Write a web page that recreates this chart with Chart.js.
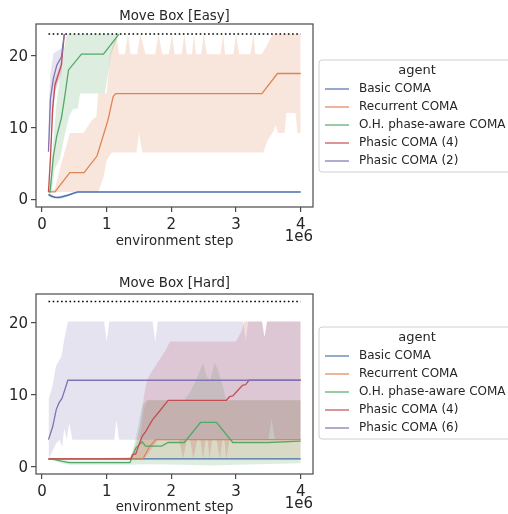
<!DOCTYPE html>
<html>
<head>
<meta charset="utf-8">
<script src="https://cdn.jsdelivr.net/npm/chart.js@4.4.1/dist/chart.umd.min.js"></script>
<style>
  html, body { margin: 0; padding: 0; background: #fff; }
  .wrap { position: relative; width: 508px; height: 257px; }
</style>
</head>
<body>
<div class="wrap"><canvas id="easy" width="508" height="257"></canvas></div>
<div class="wrap"><canvas id="hard" width="508" height="257"></canvas></div>
<script>
// tick labels & reference level
const xTicks = [0, 1, 2, 3, 4];
const yTicks = [0, 10, 20];
const target = 23;
const targetX = [0.1, 4];

const easyLabels = ['Basic COMA', 'Recurrent COMA', 'O.H. phase-aware COMA', 'Phasic COMA (4)', 'Phasic COMA (2)'];
const hardLabels = ['Basic COMA', 'Recurrent COMA', 'O.H. phase-aware COMA', 'Phasic COMA (4)', 'Phasic COMA (6)'];

// --- Move Box [Easy]  ([step in 1e6, return])
const easyBasicMean = [[0.1,0.65],[0.15,0.4],[0.2,0.25],[0.25,0.22],[0.3,0.3],[0.4,0.55],[0.5,0.85],[0.55,1],[4,1]];
const easyBasicLo   = [[0.1,0.4],[0.15,0.15],[0.2,0.05],[0.25,0.05],[0.3,0.1],[0.4,0.4],[0.5,0.8],[0.55,0.95],[4,0.95]];
const easyBasicHi   = [[0.1,0.9],[0.15,0.65],[0.2,0.45],[0.25,0.42],[0.3,0.5],[0.4,0.7],[0.5,0.95],[0.55,1.05],[4,1.05]];

const easyRecMean = [[0.1,1],[0.2,1],[0.43,3.7],[0.65,3.7],[0.85,6],[1.02,11],[1.1,14.3],[1.14,14.7],[3.4,14.7],[3.64,17.5],[4,17.5]];
const easyRecLo   = [[0.1,1],[0.87,1],[0.95,3],[1.0,5.4],[1.08,6.5],[1.46,6.5],[1.5,9.2],[1.55,6.5],[3.42,6.5],[3.49,8.2],[3.58,9.5],[3.61,10.3],[3.65,9.2],[3.75,9.2],[3.78,12],[3.92,12],[3.95,9.2],[4,9.2]];
const easyRecHi   = [[0.1,1],[0.2,1.5],[0.3,5],[0.43,9.2],[0.64,9.2],[0.77,11],[0.84,11.5],[0.87,14.7],[1.0,14.7],[1.05,20.2],[1.15,23],
  [1.19,20.2],[1.28,20.2],[1.33,23],[1.37,20.2],[1.47,20.2],[1.52,23],[1.6,20.2],[1.75,20.2],[1.8,23],[1.86,20.2],[1.96,20.2],
  [2.01,23],[2.05,20.2],[2.16,20.2],[2.2,23],[2.24,20.2],[2.32,20.2],[2.35,23],[2.38,20.2],[2.46,20.2],[2.5,23],[2.55,20.2],
  [2.76,20.2],[2.8,23],[2.83,20.2],[2.96,20.2],[3.0,23],[3.05,20.2],[3.22,20.2],[3.27,23],[3.3,20.2],[3.4,20.2],[3.57,23],[4,23]];

const easyOhMean = [[0.1,1],[0.125,1],[0.175,5.9],[0.226,8.7],[0.3,11.3],[0.355,14.5],[0.41,18],[0.61,20.2],[0.95,20.2],[1.19,23]];
const easyOhLo   = [[0.1,1],[0.15,1],[0.2,4.3],[0.28,5.7],[0.35,8.9],[0.42,11.5],[0.48,12.6],[0.55,12.6],[0.59,14.7],[0.97,14.7],[1.07,20.2],[1.19,23]];
const easyOhHi   = [[0.1,1],[0.13,3],[0.175,8],[0.22,13],[0.28,17],[0.33,20.2],[0.38,23],[1.19,23]];

const easyP4Mean = [[0.1,1],[0.13,5.7],[0.165,12.6],[0.2,15.9],[0.25,17.3],[0.3,18.7],[0.345,23]];
const easyP4Lo   = [[0.1,1],[0.13,4],[0.165,11],[0.2,15],[0.25,16.5],[0.3,18],[0.345,23]];
const easyP4Hi   = [[0.1,1],[0.13,7.5],[0.165,14],[0.2,16.8],[0.25,18],[0.3,19.5],[0.345,23]];

const easyP2Mean = [[0.1,6.6],[0.13,14],[0.175,16.8],[0.23,18.7],[0.3,19.8],[0.345,23]];
const easyP2Lo   = [[0.1,6.6],[0.14,10.3],[0.2,14.9],[0.3,17.3],[0.345,23]];
const easyP2Hi   = [[0.1,12],[0.13,17.4],[0.175,20.3],[0.3,21],[0.345,23]];

// --- Move Box [Hard]
const hardBasicMean = [[0.1,1],[4,1]];
const hardBasicLo   = [[0.1,0.97],[4,0.97]];
const hardBasicHi   = [[0.1,1.03],[4,1.03]];

const hardRecMean = [[0.1,1],[1.56,1],[1.66,2.7],[1.76,3.7],[4,3.7]];
const hardRecLo   = [[0.1,1],[4,1]];
const hardRecHi   = [[0.1,1],[1.4,1],[1.5,3],[1.58,8],[1.63,9.2],[4,9.2]];

const hardOhMean = [[0.1,1],[0.2,0.9],[0.3,0.7],[0.42,0.5],[1.36,0.5],[1.45,2.5],[1.55,3.4],[1.6,2.8],[1.85,2.8],[1.95,3.3],[2.2,3.3],[2.45,6.1],[2.7,6.1],[2.95,3.3],[3.5,3.3],[4,3.5]];
const hardOhLo   = [[0.1,1],[0.3,0.4],[0.42,0.2],[1.36,0.2],[1.6,0.25],[2.2,0.2],[2.6,0.1],[3.0,0.2],[3.5,0.3],[4,0.4]];
const hardOhHi   = [[0.1,1],[0.3,0.9],[0.42,0.75],[1.36,0.8],[1.45,4],[1.55,8.5],[1.62,9.2],[2.2,9.2],[2.3,10.5],[2.38,12],[2.49,14.4],[2.55,12.5],[2.6,12],[2.67,14.4],[2.72,13.5],[2.8,11],[2.85,9.2],[4,9.2]];

const hardP4Mean = [[0.1,1],[1.37,1],[1.4,1.6],[1.45,1.7],[1.5,3.0],[1.55,4.2],[1.6,4.8],[1.71,6.5],[1.81,7.6],[1.95,9.2],[2.85,9.2],[2.9,9.7],[2.95,9.8],[3.03,10.6],[3.1,11.3],[3.15,11.4],[3.2,12],[4,12]];
const hardP4Lo   = [[0.1,1],[1.3,0.9],[1.45,1],[1.6,1.2],[1.7,2.5],[1.8,3.7],[2.12,3.7],[2.18,1],[2.24,3.7],[2.29,3.7],[2.34,1],[2.4,3.7],[2.45,3.7],[2.49,1],[2.53,3.7],[2.56,3.7],[2.59,1],[2.63,3.7],[2.7,3.7],[2.75,1],[2.79,3.7],[2.82,3.7],[2.85,1],[2.9,3.7],[3.5,3.7],[3.55,6.6],[3.6,3.7],[4,3.7]];
const hardP4Hi   = [[0.1,1],[1.3,1.2],[1.37,1.3],[1.45,3],[1.52,6],[1.58,10],[1.62,12],[1.71,13.4],[1.81,14.8],[1.91,16.2],[1.98,17.4],[3.0,17.4],[3.08,18.8],[3.13,20.2],[3.4,20.2],[3.44,18],[3.48,20.2],[4,20.2]];

const hardP6Mean = [[0.1,3.7],[0.165,5.5],[0.22,7.9],[0.26,8.8],[0.31,9.5],[0.4,12],[4,12]];
const hardP6Lo   = [[0.1,1],[0.22,3.2],[0.27,3.7],[0.31,2.7],[0.345,5.3],[0.38,3.7],[0.42,6.0],[0.47,3.7],[1.12,3.7],[1.15,6.5],[1.19,3.7],[4,3.7]];
const hardP6Hi   = [[0.1,9.3],[0.155,10.9],[0.216,14],[0.278,15],[0.3,15.3],[0.35,18],[0.4,20.2],[0.96,20.2],[1.0,17.4],[1.04,20.2],[1.71,20.2],[1.75,17.4],[1.79,20.2],[3.11,20.2],[3.15,17.6],[3.19,20.2],[3.4,20.2],[3.44,18],[3.48,20.2],[4,20.2]];

// seaborn "deep"
const colors = ['76,114,176', '221,132,82', '85,168,104', '196,78,82', '129,114,179'];
const FONT = '"DejaVu Sans", "Liberation Sans", sans-serif';

const pts = arr => arr.map(p => ({ x: p[0], y: p[1] }));

function makeDatasets(means, los, his, lineWidths) {
  const ds = [];
  means.forEach((m, i) => {
    const c = colors[i];
    ds.push({ data: pts(his[i]), fill: '+1', backgroundColor: 'rgba(' + c + ',0.2)',
      borderColor: 'rgba(0,0,0,0)', borderWidth: 0, pointRadius: 0, order: 30 - i });
    ds.push({ data: pts(los[i]), fill: false, borderColor: 'rgba(0,0,0,0)',
      borderWidth: 0, pointRadius: 0, order: 30 - i });
  });
  means.forEach((m, i) => {
    ds.push({ data: pts(m), fill: false, borderColor: 'rgb(' + colors[i] + ')',
      borderWidth: lineWidths[i], pointRadius: 0, order: 15 - i });
  });
  ds.push({ data: targetX.map(x => ({ x: x, y: target })), fill: false, borderColor: '#000',
    borderWidth: 1.6, borderDash: [1.6, 2.6], pointRadius: 0, order: 0 });
  return ds;
}

const decor = {
  id: 'decor',
  afterDraw(chart, args, o) {
    const ctx = chart.ctx, a = chart.chartArea;
    ctx.save();
    ctx.strokeStyle = '#4a4a4a';
    ctx.lineWidth = 1.2;
    ctx.strokeRect(a.left, a.top, a.right - a.left, a.bottom - a.top);
    ctx.fillStyle = '#262626';
    ctx.textBaseline = 'middle';
    ctx.textAlign = 'center';
    ctx.font = '13.3px ' + FONT;
    ctx.fillText(o.title, (a.left + a.right) / 2, o.titleY);
    ctx.textAlign = 'right';
    ctx.font = '15px ' + FONT;
    ctx.fillText('1e6', a.right, o.offY);

    // legend box
    const lx = 319, ly = o.legTop;
    ctx.beginPath();
    ctx.roundRect(lx, ly, 210, 112, 3);
    ctx.fillStyle = 'rgba(255,255,255,0.8)';
    ctx.fill();
    ctx.strokeStyle = '#d0d0d0';
    ctx.lineWidth = 1;
    ctx.stroke();
    ctx.fillStyle = '#262626';
    ctx.textAlign = 'center';
    ctx.font = '13px ' + FONT;
    ctx.fillText('agent', 417, ly + 11);
    ctx.textAlign = 'left';
    ctx.font = '12px ' + FONT;
    o.labels.forEach((lab, i) => {
      const y = ly + 29 + i * 18;
      ctx.strokeStyle = 'rgba(' + colors[i] + ',' + o.legAlpha + ')';
      ctx.lineWidth = o.legWidth;
      ctx.beginPath();
      ctx.moveTo(325, y);
      ctx.lineTo(349, y);
      ctx.stroke();
      ctx.fillStyle = '#262626';
      ctx.fillText(lab, 359, y);
    });
    ctx.restore();
  }
};

function makeChart(id, datasets, yMax, padTop, xHeight, titlePad, deco) {
  return new Chart(document.getElementById(id), {
    type: 'line',
    data: { datasets: datasets },
    options: {
      responsive: false,
      animation: false,
      devicePixelRatio: 1,
      layout: { padding: { top: padTop, right: 195, left: 0, bottom: 0 } },
      plugins: { legend: { display: false }, tooltip: { enabled: false }, decor: deco },
      elements: { line: { tension: 0 } },
      scales: {
        x: {
          type: 'linear', min: -0.093, max: 4.19,
          afterBuildTicks: s => { s.ticks = xTicks.map(v => ({ value: v })); },
          afterFit: s => { s.height = xHeight; },
          ticks: { autoSkip: false, maxRotation: 0, padding: 4, color: '#262626', font: { family: FONT, size: 15 },
            callback: v => String(v) },
          grid: { drawOnChartArea: false, drawTicks: true, tickLength: 5, color: '#4a4a4a', lineWidth: 1.2 },
          border: { display: false },
          title: { display: true, text: 'environment step', color: '#262626',
            font: { family: FONT, size: 13.3 }, padding: { top: 0, bottom: titlePad } }
        },
        y: {
          type: 'linear', min: -1.1, max: yMax,
          afterBuildTicks: s => { s.ticks = yTicks.map(v => ({ value: v })); },
          afterFit: s => { s.width = 36; },
          ticks: { padding: 3, labelOffset: 1.5, color: '#262626', font: { family: FONT, size: 15 }, callback: v => String(v) },
          grid: { drawOnChartArea: false, drawTicks: true, tickLength: 5, color: '#4a4a4a', lineWidth: 1.2 },
          border: { display: false }
        }
      }
    },
    plugins: [decor]
  });
}

makeChart('easy',
  makeDatasets(
    [easyBasicMean, easyRecMean, easyOhMean, easyP4Mean, easyP2Mean],
    [easyBasicLo, easyRecLo, easyOhLo, easyP4Lo, easyP2Lo],
    [easyBasicHi, easyRecHi, easyOhHi, easyP4Hi, easyP2Hi],
    [1.6, 1.3, 1.3, 1.3, 1.3]),
  24.4, 24, 50, 7,
  { title: 'Move Box [Easy]', titleY: 16.7, offY: 237.5, legTop: 60, labels: easyLabels, legAlpha: 0.6, legWidth: 2 });

makeChart('hard',
  makeDatasets(
    [hardBasicMean, hardRecMean, hardOhMean, hardP4Mean, hardP6Mean],
    [hardBasicLo, hardRecLo, hardOhLo, hardP4Lo, hardP6Lo],
    [hardBasicHi, hardRecHi, hardOhHi, hardP4Hi, hardP6Hi],
    [1.3, 1.3, 1.3, 1.3, 1.3]),
  24.05, 37, 40, -2,
  { title: 'Move Box [Hard]', titleY: 27, offY: 247, legTop: 70, labels: hardLabels, legAlpha: 1, legWidth: 1.2 });
</script>
</body>
</html>
